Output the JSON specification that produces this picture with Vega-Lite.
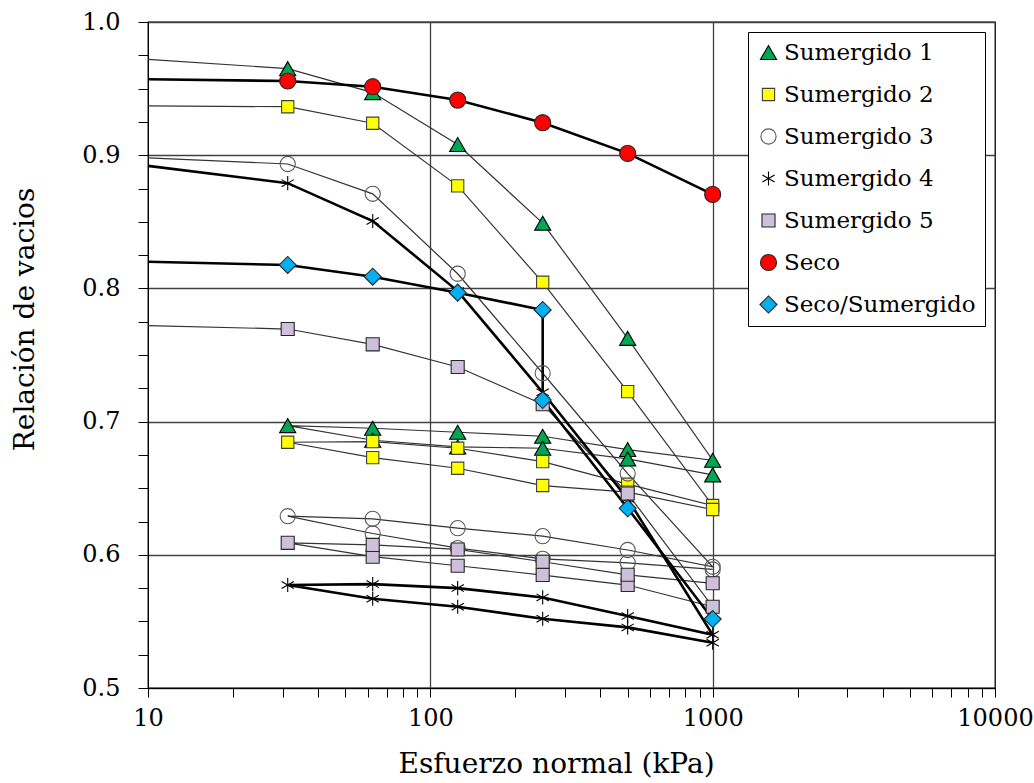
{
  "$schema": "https://vega.github.io/schema/vega-lite/v6.json",
  "autosize": "none",
  "width": 847,
  "height": 666,
  "padding": {"left": 148, "top": 22, "right": 39, "bottom": 95},
  "background": "white",
  "config": {
    "view": {"stroke": "#000000", "strokeWidth": 1.3},
    "font": "DejaVu Serif",
    "axis": {
      "labelFont": "DejaVu Serif",
      "titleFont": "DejaVu Serif",
      "labelColor": "#000000",
      "titleColor": "#000000",
      "domainColor": "#000000",
      "tickColor": "#000000",
      "labelFontSize": 24,
      "titleFontSize": 28,
      "titleFontWeight": "normal",
      "tickSize": 9,
      "labelOverlap": false,
      "labelFlush": false
    },
    "legend": {
      "labelFont": "DejaVu Serif",
      "labelFontSize": 23,
      "labelColor": "#000000"
    }
  },
  "data": {
    "values": [
      {"s": "Sumergido 1", "x": 10, "e": 0.972, "o": 0},
      {"s": "Sumergido 1", "x": 31.25, "e": 0.965, "o": 1},
      {"s": "Sumergido 1", "x": 62.5, "e": 0.947, "o": 2},
      {"s": "Sumergido 1", "x": 125, "e": 0.908, "o": 3},
      {"s": "Sumergido 1", "x": 250, "e": 0.849, "o": 4},
      {"s": "Sumergido 1", "x": 500, "e": 0.7625, "o": 5},
      {"s": "Sumergido 1", "x": 1000, "e": 0.671, "o": 6},
      {"s": "Sumergido 1", "x": 500, "e": 0.679, "o": 7},
      {"s": "Sumergido 1", "x": 250, "e": 0.689, "o": 8},
      {"s": "Sumergido 1", "x": 125, "e": 0.692, "o": 9},
      {"s": "Sumergido 1", "x": 62.5, "e": 0.695, "o": 10},
      {"s": "Sumergido 1", "x": 31.25, "e": 0.697, "o": 11},
      {"s": "Sumergido 1", "x": 62.5, "e": 0.686, "o": 12},
      {"s": "Sumergido 1", "x": 125, "e": 0.681, "o": 13},
      {"s": "Sumergido 1", "x": 250, "e": 0.68, "o": 14},
      {"s": "Sumergido 1", "x": 500, "e": 0.672, "o": 15},
      {"s": "Sumergido 1", "x": 1000, "e": 0.66, "o": 16},

      {"s": "Sumergido 2", "x": 10, "e": 0.937, "o": 0},
      {"s": "Sumergido 2", "x": 31.25, "e": 0.9364, "o": 1},
      {"s": "Sumergido 2", "x": 62.5, "e": 0.924, "o": 2},
      {"s": "Sumergido 2", "x": 125, "e": 0.877, "o": 3},
      {"s": "Sumergido 2", "x": 250, "e": 0.8046, "o": 4},
      {"s": "Sumergido 2", "x": 500, "e": 0.7225, "o": 5},
      {"s": "Sumergido 2", "x": 1000, "e": 0.637, "o": 6},
      {"s": "Sumergido 2", "x": 500, "e": 0.653, "o": 7},
      {"s": "Sumergido 2", "x": 250, "e": 0.67, "o": 8},
      {"s": "Sumergido 2", "x": 125, "e": 0.68, "o": 9},
      {"s": "Sumergido 2", "x": 62.5, "e": 0.685, "o": 10},
      {"s": "Sumergido 2", "x": 31.25, "e": 0.6845, "o": 11},
      {"s": "Sumergido 2", "x": 62.5, "e": 0.673, "o": 12},
      {"s": "Sumergido 2", "x": 125, "e": 0.665, "o": 13},
      {"s": "Sumergido 2", "x": 250, "e": 0.652, "o": 14},
      {"s": "Sumergido 2", "x": 500, "e": 0.647, "o": 15},
      {"s": "Sumergido 2", "x": 1000, "e": 0.634, "o": 16},

      {"s": "Sumergido 3", "x": 10, "e": 0.898, "o": 0},
      {"s": "Sumergido 3", "x": 31.25, "e": 0.8934, "o": 1},
      {"s": "Sumergido 3", "x": 62.5, "e": 0.871, "o": 2},
      {"s": "Sumergido 3", "x": 125, "e": 0.811, "o": 3},
      {"s": "Sumergido 3", "x": 250, "e": 0.7363, "o": 4},
      {"s": "Sumergido 3", "x": 500, "e": 0.661, "o": 5},
      {"s": "Sumergido 3", "x": 1000, "e": 0.591, "o": 6},
      {"s": "Sumergido 3", "x": 500, "e": 0.6036, "o": 7},
      {"s": "Sumergido 3", "x": 250, "e": 0.614, "o": 8},
      {"s": "Sumergido 3", "x": 125, "e": 0.62, "o": 9},
      {"s": "Sumergido 3", "x": 62.5, "e": 0.627, "o": 10},
      {"s": "Sumergido 3", "x": 31.25, "e": 0.629, "o": 11},
      {"s": "Sumergido 3", "x": 62.5, "e": 0.616, "o": 12},
      {"s": "Sumergido 3", "x": 125, "e": 0.605, "o": 13},
      {"s": "Sumergido 3", "x": 250, "e": 0.597, "o": 14},
      {"s": "Sumergido 3", "x": 500, "e": 0.594, "o": 15},
      {"s": "Sumergido 3", "x": 1000, "e": 0.589, "o": 16},

      {"s": "Sumergido 4", "x": 10, "e": 0.892, "o": 0},
      {"s": "Sumergido 4", "x": 31.25, "e": 0.879, "o": 1},
      {"s": "Sumergido 4", "x": 62.5, "e": 0.8506, "o": 2},
      {"s": "Sumergido 4", "x": 125, "e": 0.798, "o": 3},
      {"s": "Sumergido 4", "x": 250, "e": 0.722, "o": 4},
      {"s": "Sumergido 4", "x": 500, "e": 0.642, "o": 5},
      {"s": "Sumergido 4", "x": 1000, "e": 0.54, "o": 6},
      {"s": "Sumergido 4", "x": 500, "e": 0.554, "o": 7},
      {"s": "Sumergido 4", "x": 250, "e": 0.568, "o": 8},
      {"s": "Sumergido 4", "x": 125, "e": 0.575, "o": 9},
      {"s": "Sumergido 4", "x": 62.5, "e": 0.578, "o": 10},
      {"s": "Sumergido 4", "x": 31.25, "e": 0.5773, "o": 11},
      {"s": "Sumergido 4", "x": 62.5, "e": 0.567, "o": 12},
      {"s": "Sumergido 4", "x": 125, "e": 0.561, "o": 13},
      {"s": "Sumergido 4", "x": 250, "e": 0.552, "o": 14},
      {"s": "Sumergido 4", "x": 500, "e": 0.5455, "o": 15},
      {"s": "Sumergido 4", "x": 1000, "e": 0.534, "o": 16},

      {"s": "Sumergido 5", "x": 10, "e": 0.772, "o": 0},
      {"s": "Sumergido 5", "x": 31.25, "e": 0.7695, "o": 1},
      {"s": "Sumergido 5", "x": 62.5, "e": 0.758, "o": 2},
      {"s": "Sumergido 5", "x": 125, "e": 0.741, "o": 3},
      {"s": "Sumergido 5", "x": 250, "e": 0.713, "o": 4},
      {"s": "Sumergido 5", "x": 500, "e": 0.646, "o": 5},
      {"s": "Sumergido 5", "x": 1000, "e": 0.561, "o": 6},
      {"s": "Sumergido 5", "x": 500, "e": 0.5773, "o": 7},
      {"s": "Sumergido 5", "x": 250, "e": 0.5848, "o": 8},
      {"s": "Sumergido 5", "x": 125, "e": 0.5918, "o": 9},
      {"s": "Sumergido 5", "x": 62.5, "e": 0.5986, "o": 10},
      {"s": "Sumergido 5", "x": 31.25, "e": 0.609, "o": 11},
      {"s": "Sumergido 5", "x": 62.5, "e": 0.6074, "o": 12},
      {"s": "Sumergido 5", "x": 125, "e": 0.604, "o": 13},
      {"s": "Sumergido 5", "x": 250, "e": 0.5948, "o": 14},
      {"s": "Sumergido 5", "x": 500, "e": 0.585, "o": 15},
      {"s": "Sumergido 5", "x": 1000, "e": 0.5786, "o": 16},

      {"s": "Seco", "x": 10, "e": 0.957, "o": 0},
      {"s": "Seco", "x": 31.25, "e": 0.9557, "o": 1},
      {"s": "Seco", "x": 62.5, "e": 0.9514, "o": 2},
      {"s": "Seco", "x": 125, "e": 0.9414, "o": 3},
      {"s": "Seco", "x": 250, "e": 0.9244, "o": 4},
      {"s": "Seco", "x": 500, "e": 0.9014, "o": 5},
      {"s": "Seco", "x": 1000, "e": 0.8706, "o": 6},

      {"s": "Seco/Sumergido", "x": 10, "e": 0.82, "o": 0},
      {"s": "Seco/Sumergido", "x": 31.25, "e": 0.8176, "o": 1},
      {"s": "Seco/Sumergido", "x": 62.5, "e": 0.8088, "o": 2},
      {"s": "Seco/Sumergido", "x": 125, "e": 0.7968, "o": 3},
      {"s": "Seco/Sumergido", "x": 250, "e": 0.7838, "o": 4},
      {"s": "Seco/Sumergido", "x": 250, "e": 0.7162, "o": 5},
      {"s": "Seco/Sumergido", "x": 500, "e": 0.6349, "o": 6},
      {"s": "Seco/Sumergido", "x": 1000, "e": 0.5518, "o": 7}
    ]
  },
  "encoding": {
    "x": {
      "field": "x",
      "type": "quantitative",
      "scale": {"type": "log", "domain": [10, 10000], "nice": false},
      "axis": {
        "title": "Esfuerzo normal (kPa)",
        "values": [10, 20, 30, 40, 50, 60, 70, 80, 90, 100, 200, 300, 400, 500, 600, 700, 800, 900, 1000, 2000, 3000, 4000, 5000, 6000, 7000, 8000, 9000, 10000],
        "labelExpr": "(datum.value == 10 || datum.value == 100 || datum.value == 1000 || datum.value == 10000) ? format(datum.value, 'd') : ''",
        "labelPadding": 9,
        "grid": true,
        "gridColor": "#404040",
        "gridWidth": 1.3,
        "gridOpacity": {"condition": {"test": "datum.value == 100 || datum.value == 1000", "value": 1}, "value": 0},
        "titleX": 408,
        "titleY": 84,
        "titleAnchor": "middle",
        "titleAlign": "center",
        "titleBaseline": "alphabetic"
      }
    },
    "y": {
      "field": "e",
      "type": "quantitative",
      "scale": {"domain": [0.5, 1.0], "zero": false, "nice": false},
      "axis": {
        "title": "Relación de vacios",
        "values": [0.5, 0.525, 0.55, 0.575, 0.6, 0.625, 0.65, 0.675, 0.7, 0.725, 0.75, 0.775, 0.8, 0.825, 0.85, 0.875, 0.9, 0.925, 0.95, 0.975, 1.0],
        "labelExpr": "abs(datum.value * 10 - round(datum.value * 10)) < 0.001 ? format(datum.value, '.1f') : ''",
        "labelPadding": 18,
        "tickSize": 10,
        "grid": true,
        "gridColor": "#404040",
        "gridWidth": 1.3,
        "gridOpacity": {"condition": {"test": "abs(datum.value * 10 - round(datum.value * 10)) < 0.001", "value": 1}, "value": 0},
        "titleAngle": -90,
        "titleX": -115,
        "titleY": 297,
        "titleAlign": "center",
        "titleBaseline": "alphabetic"
      }
    }
  },
  "layer": [
    {
      "transform": [{"filter": "datum.s != 'Sumergido 4' && datum.s != 'Seco' && datum.s != 'Seco/Sumergido'"}],
      "mark": {"type": "line", "interpolate": "linear", "color": "#333333", "strokeWidth": 1.2},
      "encoding": {
        "detail": {"field": "s"},
        "order": {"field": "o", "type": "quantitative"}
      }
    },
    {
      "transform": [{"filter": "datum.s == 'Sumergido 4' || datum.s == 'Seco' || datum.s == 'Seco/Sumergido'"}],
      "mark": {"type": "line", "interpolate": "linear", "color": "#000000", "strokeWidth": 2.6},
      "encoding": {
        "detail": {"field": "s"},
        "order": {"field": "o", "type": "quantitative"}
      }
    },
    {
      "transform": [{"filter": "datum.x > 10"}],
      "mark": {"type": "point", "filled": true, "opacity": 1, "strokeWidth": 1.1, "fillOpacity": 1, "strokeOpacity": 1},
      "encoding": {
        "shape": {
          "field": "s",
          "type": "nominal",
          "title": null,
          "scale": {
            "domain": ["Sumergido 1", "Sumergido 2", "Sumergido 3", "Sumergido 4", "Sumergido 5", "Seco", "Seco/Sumergido"],
            "range": ["triangle-up", "square", "circle", "M0,-1L0,1M-0.87,-0.5L0.87,0.5M-0.87,0.5L0.87,-0.5", "square", "circle", "diamond"]
          },
          "legend": {
            "orient": "top-right",
            "offset": 10,
            "fillColor": "#FFFFFF",
            "strokeColor": "#000000",
            "padding": 9,
            "rowPadding": 18,
            "symbolStrokeWidth": 1.1,
            "labelLimit": 400,
            "labelOffset": 4
          }
        },
        "fill": {
          "field": "s",
          "type": "nominal",
          "title": null,
          "scale": {
            "domain": ["Sumergido 1", "Sumergido 2", "Sumergido 3", "Sumergido 4", "Sumergido 5", "Seco", "Seco/Sumergido"],
            "range": ["#00A651", "#FFFF00", "transparent", "transparent", "#CCC0DA", "#FF0000", "#00B0F0"]
          }
        },
        "stroke": {
          "field": "s",
          "type": "nominal",
          "title": null,
          "scale": {
            "domain": ["Sumergido 1", "Sumergido 2", "Sumergido 3", "Sumergido 4", "Sumergido 5", "Seco", "Seco/Sumergido"],
            "range": ["#000000", "#404040", "#595959", "#000000", "#262626", "#262626", "#262626"]
          }
        },
        "size": {
          "field": "s",
          "type": "nominal",
          "title": null,
          "scale": {
            "type": "ordinal",
            "domain": ["Sumergido 1", "Sumergido 2", "Sumergido 3", "Sumergido 4", "Sumergido 5", "Seco", "Seco/Sumergido"],
            "range": [260, 150, 230, 200, 170, 260, 290]
          }
        }
      }
    }
  ]
}
